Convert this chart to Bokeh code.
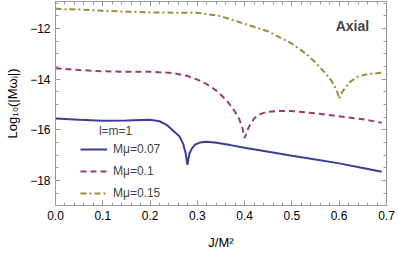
from bokeh.plotting import figure
from bokeh.models import (Range1d, LinearAxis, FixedTicker, Legend, LegendItem,
                          Label, CustomJSTickFormatter, PrintfTickFormatter)
from bokeh.embed import file_html
from bokeh.resources import INLINE

# --- data ---
x_007 = [0.0, 0.05, 0.10, 0.15, 0.20, 0.22, 0.235, 0.25, 0.262, 0.27, 0.275, 0.279,
         0.283, 0.288, 0.295, 0.305, 0.32, 0.34, 0.37, 0.40, 0.45, 0.50, 0.55, 0.60, 0.65, 0.69]
y_007 = [-15.55, -15.60, -15.64, -15.63, -15.60, -15.66, -15.80, -16.05, -16.25, -16.55, -16.90, -17.38,
         -16.95, -16.75, -16.58, -16.50, -16.47, -16.51, -16.60, -16.70, -16.86, -17.02, -17.17, -17.32, -17.50, -17.65]

x_01 = [0.0, 0.05, 0.10, 0.15, 0.20, 0.25, 0.28, 0.30, 0.32, 0.34, 0.36, 0.375, 0.388, 0.395, 0.40,
        0.405, 0.41, 0.42, 0.43, 0.445, 0.47, 0.50, 0.55, 0.60, 0.65, 0.69]
y_01 = [-13.57, -13.64, -13.69, -13.71, -13.71, -13.76, -13.88, -14.02, -14.20, -14.45, -14.80, -15.15, -15.55, -15.90, -16.32,
        -16.05, -15.85, -15.55, -15.40, -15.30, -15.25, -15.26, -15.35, -15.46, -15.58, -15.72]

x_015 = [0.0, 0.05, 0.10, 0.15, 0.20, 0.25, 0.30, 0.35, 0.40, 0.45, 0.50, 0.53, 0.55, 0.57, 0.585, 0.595, 0.60,
         0.605, 0.612, 0.625, 0.64, 0.66, 0.69]
y_015 = [-11.23, -11.26, -11.30, -11.34, -11.37, -11.38, -11.38, -11.52, -11.82, -12.12, -12.60, -13.00, -13.35, -13.75, -14.10, -14.45, -14.78,
         -14.55, -14.35, -14.08, -13.90, -13.80, -13.75]

labels = ["Mμ=0.07", "Mμ=0.1", "Mμ=0.15"]
x_ticks = [0.0, 0.1, 0.2, 0.3, 0.4, 0.5, 0.6, 0.7]
y_ticks = [-18, -16, -14, -12]

FONT = "Liberation Sans"
AX = "#999999"

p = figure(width=396, height=252, output_backend="svg", toolbar_location=None,
           x_range=Range1d(0, 0.7), y_range=Range1d(-18.98, -10.94),
           min_border_left=55, min_border_right=10, min_border_top=1, min_border_bottom=47)
p.grid.visible = False
p.outline_line_color = AX
p.background_fill_color = "white"

xt = FixedTicker(ticks=x_ticks, minor_ticks=[round(i * 0.02, 2) for i in range(36)])
yt = FixedTicker(ticks=y_ticks, minor_ticks=[-19 + 0.5 * i for i in range(17)])

yfmt = CustomJSTickFormatter(code="return tick.toFixed(0).replace('-', '\\u2212');")
blank = CustomJSTickFormatter(code="return '';")

def style(ax, labels_on):
    ax.axis_line_color = AX
    ax.major_tick_line_color = AX
    ax.minor_tick_line_color = AX
    ax.major_tick_in = 5
    ax.major_tick_out = 0
    ax.minor_tick_in = 3
    ax.minor_tick_out = 0
    ax.major_label_text_font = FONT
    ax.major_label_text_font_size = "12px"
    ax.major_label_text_color = "black"
    ax.major_label_standoff = 5 if labels_on else 0
    ax.axis_label_text_font = FONT
    ax.axis_label_text_font_size = "13px"
    ax.axis_label_text_font_style = "normal"
    ax.axis_label_text_color = "black"

p.xaxis.ticker = xt
p.xaxis.formatter = PrintfTickFormatter(format="%.1f")
p.yaxis.ticker = yt
p.yaxis.formatter = yfmt
style(p.xaxis[0], True)
style(p.yaxis[0], True)
p.xaxis.axis_label = "J/M²"
p.yaxis.axis_label = "Log₁₀(|Mωᵢ|)"
p.xaxis.axis_label_standoff = 12
p.yaxis.axis_label_standoff = 7

top = LinearAxis(ticker=xt, formatter=blank)
style(top, False)
right = LinearAxis(ticker=yt, formatter=blank)
style(right, False)
p.add_layout(top, "above")
p.add_layout(right, "right")

r1 = p.line(x_007, y_007, line_color="#3D3D99", line_width=2)
r2 = p.line(x_01, y_01, line_color="#993D71", line_width=2, line_dash="6 4")
r3 = p.line(x_015, y_015, line_color="#998C3D", line_width=2, line_dash="6 3 2 3")

legend = Legend(items=[LegendItem(label=labels[0], renderers=[r1]),
                       LegendItem(label=labels[1], renderers=[r2]),
                       LegendItem(label=labels[2], renderers=[r3])],
                location=(25, 2), padding=0, margin=0, spacing=2,
                glyph_width=27, glyph_height=20, label_height=20, label_standoff=6,
                label_text_font=FONT, label_text_font_size="12px",
                background_fill_alpha=0, border_line_color=None)
p.add_layout(legend)

p.add_layout(Label(x=0.127, y=-16.04, text="l=m=1", text_font=FONT, text_font_size="12px",
                   text_align="center", text_baseline="middle"))
p.add_layout(Label(x=0.628, y=-11.92, text="Axial", text_font=FONT, text_font_size="14px",
                   text_font_style="bold", text_align="center", text_baseline="middle"))

open("out.html", "w").write(file_html(p, INLINE))
